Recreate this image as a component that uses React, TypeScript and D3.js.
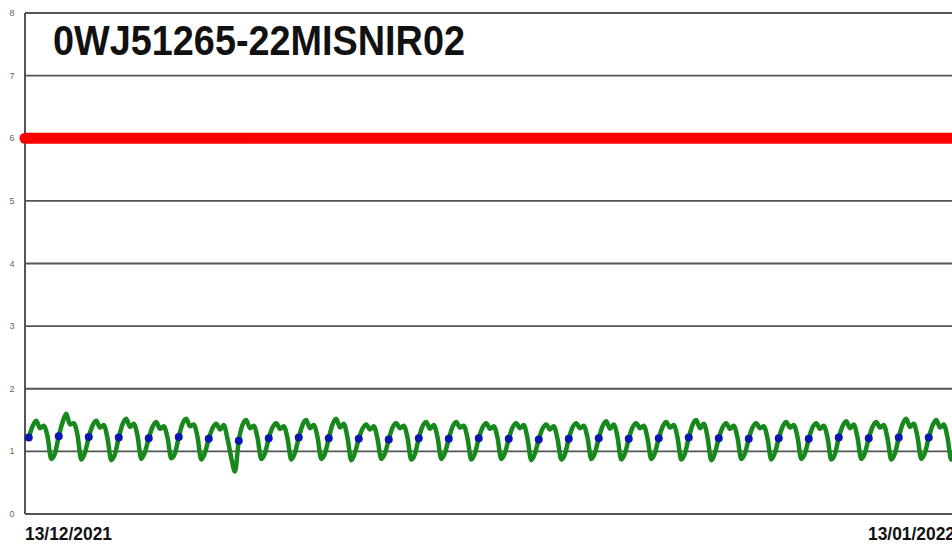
import React from 'react'
import * as d3 from 'd3'

// chart content
const title = '0WJ51265-22MISNIR02'
const startDay = new Date(2021, 11, 13)
const endDay = new Date(2022, 0, 13)
const yTicks = [0, 1, 2, 3, 4, 5, 6, 7, 8]
const limitValue = 6
// hours of the day for each reading (first one is the daily blue point)
const readingHours = [3, 6, 9, 12, 15, 18, 21, 24]
// one row per day, 13/12/2021 .. 12/01/2022
const readings = [
  [1.22, 1.40, 1.49, 1.37, 1.41, 1.24, 0.88, 0.97],
  [1.24, 1.46, 1.60, 1.43, 1.45, 1.26, 0.87, 0.98],
  [1.23, 1.41, 1.49, 1.38, 1.42, 1.21, 0.86, 0.96],
  [1.22, 1.43, 1.52, 1.39, 1.44, 1.25, 0.88, 0.99],
  [1.21, 1.39, 1.47, 1.36, 1.40, 1.22, 0.89, 0.97],
  [1.23, 1.44, 1.52, 1.40, 1.43, 1.23, 0.87, 0.98],
  [1.20, 1.37, 1.44, 1.35, 1.42, 1.20, 0.90, 0.68],
  [1.17, 1.42, 1.50, 1.37, 1.41, 1.22, 0.88, 0.97],
  [1.21, 1.38, 1.45, 1.36, 1.40, 1.21, 0.87, 0.98],
  [1.22, 1.42, 1.50, 1.37, 1.42, 1.23, 0.88, 0.97],
  [1.21, 1.43, 1.52, 1.38, 1.44, 1.22, 0.86, 0.98],
  [1.20, 1.36, 1.43, 1.35, 1.40, 1.20, 0.88, 0.97],
  [1.19, 1.38, 1.45, 1.37, 1.41, 1.22, 0.87, 0.96],
  [1.21, 1.40, 1.47, 1.36, 1.42, 1.23, 0.88, 0.98],
  [1.20, 1.39, 1.47, 1.38, 1.41, 1.21, 0.87, 0.97],
  [1.21, 1.38, 1.45, 1.36, 1.40, 1.22, 0.88, 0.98],
  [1.20, 1.38, 1.45, 1.37, 1.42, 1.21, 0.86, 0.97],
  [1.19, 1.36, 1.43, 1.35, 1.40, 1.20, 0.87, 0.96],
  [1.20, 1.38, 1.45, 1.37, 1.41, 1.22, 0.88, 0.98],
  [1.21, 1.40, 1.48, 1.36, 1.43, 1.23, 0.87, 0.97],
  [1.20, 1.38, 1.45, 1.37, 1.41, 1.21, 0.88, 0.98],
  [1.21, 1.39, 1.47, 1.38, 1.42, 1.22, 0.87, 0.97],
  [1.22, 1.42, 1.50, 1.37, 1.44, 1.23, 0.86, 0.98],
  [1.21, 1.38, 1.45, 1.36, 1.41, 1.22, 0.88, 0.97],
  [1.20, 1.38, 1.45, 1.37, 1.40, 1.21, 0.87, 0.98],
  [1.21, 1.39, 1.47, 1.38, 1.42, 1.23, 0.88, 0.97],
  [1.20, 1.38, 1.45, 1.36, 1.41, 1.22, 0.87, 0.96],
  [1.22, 1.40, 1.48, 1.37, 1.43, 1.22, 0.88, 0.98],
  [1.21, 1.39, 1.47, 1.38, 1.42, 1.21, 0.87, 0.97],
  [1.22, 1.43, 1.52, 1.39, 1.44, 1.23, 0.88, 0.98],
  [1.22, 1.41, 1.50, 1.38, 1.43, 1.22, 0.87, 0.97],
]

const width = 952
const height = 548

type Pt = { t: Date; v: number }

const App = () => {
  const x = d3.scaleTime().domain([startDay, endDay]).range([25, 955])
  const y = d3.scaleLinear().domain([0, 8]).range([514, 13])

  const series: Pt[] = []
  readings.forEach((row, i) => {
    const day = d3.timeDay.offset(startDay, i)
    row.forEach((v, j) => series.push({ t: d3.timeHour.offset(day, readingHours[j]), v }))
  })
  const dots: Pt[] = readings.map((row, i) => ({
    t: d3.timeHour.offset(d3.timeDay.offset(startDay, i), readingHours[0]),
    v: row[0],
  }))

  const line = d3.line<Pt>().x(d => x(d.t)).y(d => y(d.v)).curve(d3.curveMonotoneX)
  const fmt = d3.timeFormat('%d/%m/%Y')
  const [x0, x1] = x.range()

  return (
    <svg width={width} height={height} style={{ position: 'fixed', left: 0, top: 0, background: '#fff' }}
      fontFamily="'Liberation Sans', Arial, sans-serif">
      {yTicks.map(t => (
        <g key={t}>
          <line x1={x0} x2={width} y1={y(t)} y2={y(t)} stroke="#555" strokeWidth={1.8} />
          <text x={12} y={y(t) + 3} fontSize={9} fill="#666" textAnchor="middle">{t}</text>
        </g>
      ))}
      <line x1={x0} x2={x0} y1={y(8)} y2={y(0)} stroke="#555" strokeWidth={2} />

      <text x={53} y={55} fontSize={42} fontWeight="bold" fill="#111"
        textLength={412} lengthAdjust="spacingAndGlyphs">{title}</text>

      <line x1={x0} x2={width + 10} y1={y(limitValue)} y2={y(limitValue)}
        stroke="#ff0000" strokeWidth={11} strokeLinecap="round" />

      <path d={line(series) ?? ''} fill="none" stroke="#17881c" strokeWidth={4.5} strokeLinejoin="round" />
      {dots.map((d, i) => (
        <circle key={i} cx={x(d.t)} cy={y(d.v)} r={4} fill="#0a16b0" />
      ))}

      <text x={x0} y={540} fontSize={19} fontWeight="bold" fill="#111"
        textLength={87} lengthAdjust="spacingAndGlyphs">{fmt(startDay)}</text>
      <text x={x1} y={540} fontSize={19} fontWeight="bold" fill="#111" textAnchor="end"
        textLength={87} lengthAdjust="spacingAndGlyphs">{fmt(endDay)}</text>
    </svg>
  )
}

export default App
